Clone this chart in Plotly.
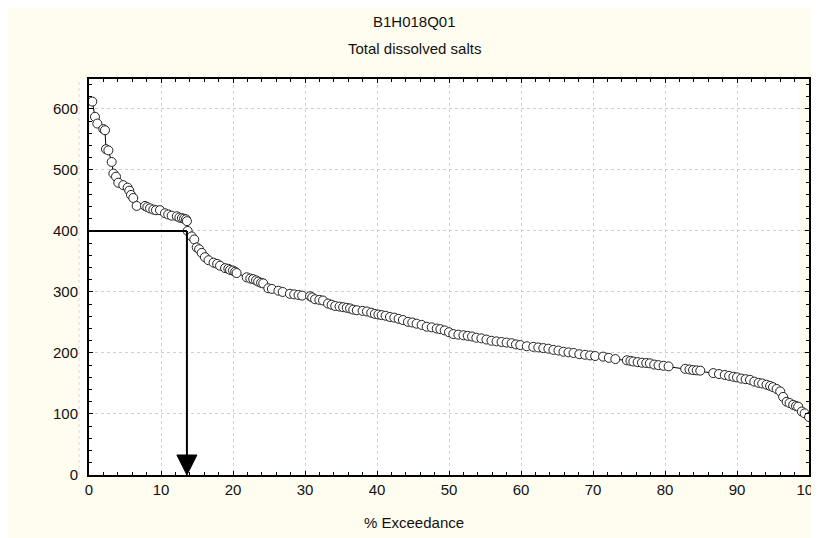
import plotly.graph_objects as go

# ---- data (TDS flow-duration / exceedance curve) ----
exceedance = [
    0.46, 0.83, 1.16, 1.99, 2.22, 2.36, 2.69, 3.15, 3.38, 3.75, 4.07, 4.76, 5.37, 5.60, 5.83,
    6.15, 6.62, 7.78, 8.10, 8.47, 8.93, 9.30, 9.86, 10.55, 11.00, 11.48, 12.20, 12.55, 12.90,
    13.20, 13.47, 13.60, 13.70, 14.26, 14.62, 14.96, 15.30, 15.65, 16.10, 16.60, 17.30, 17.80,
    18.20, 18.90, 19.35, 19.60, 20.00, 20.30, 20.50, 21.90, 22.40, 22.80, 23.20, 23.50, 23.90,
    24.20, 24.90, 25.40, 26.30, 26.90, 27.90, 28.50, 29.10, 29.60, 30.70, 31.00, 31.40, 32.00,
    32.50, 33.20, 33.70, 34.20, 34.80, 35.30, 35.80, 36.25, 36.70, 37.20, 38.00, 38.60, 39.20,
    39.70, 40.20, 40.65, 41.20, 41.80, 42.40, 43.00, 43.60, 44.30, 44.90, 45.50, 46.20, 46.90,
    47.60, 48.30, 48.80, 49.40, 50.00, 50.60, 51.30, 52.00, 52.60, 53.20, 53.80, 54.50, 55.20,
    55.90, 56.60, 57.30, 58.00, 58.70, 59.30, 59.90, 60.80, 61.70, 62.40, 63.10, 63.80, 64.50,
    65.20, 65.90, 66.60, 67.30, 68.10, 68.90, 69.60, 70.30, 71.40, 72.20, 73.10, 74.70, 75.20,
    75.60, 76.20, 76.80, 77.40, 77.90, 78.50, 79.10, 79.80, 80.50, 82.80, 83.40, 83.90, 84.40,
    84.90, 86.70, 87.50, 88.30, 88.90, 89.50, 90.00, 90.60, 91.20, 91.80, 92.40, 93.00, 93.50,
    94.10, 94.60, 95.00, 95.50, 96.00, 96.40, 96.90, 97.30, 97.80, 98.20, 98.50, 99.00, 99.40,
    100.00,
]
tds = [
    612, 587, 576, 567, 565, 534, 532, 513, 494, 489, 479, 475, 471, 466, 459,
    454, 441, 441, 439, 437, 435, 434, 434, 429, 427, 425, 424, 422, 421,
    420, 419, 416, 400, 391, 386, 373, 370, 364, 357, 352, 348, 346,
    343, 339, 338, 336, 335, 333, 331, 324, 322, 321, 319, 317, 315,
    314, 306, 305, 302, 300, 297, 296, 295, 294, 293, 291, 288, 287,
    286, 281, 279, 277, 276, 275, 274, 273, 271, 270, 269, 268, 266,
    264, 263, 262, 261, 259, 258, 256, 254, 251, 250, 248, 246, 243,
    242, 240, 239, 237, 234, 231, 230, 229, 228, 227, 225, 224, 222,
    220, 219, 218, 217, 216, 214, 213, 211, 210, 209, 208, 207, 205,
    204, 202, 201, 200, 198, 197, 196, 195, 194, 192, 190, 188, 187,
    186, 185, 184, 183.5, 183, 181, 180, 179, 178, 174, 173, 172, 171.5,
    171, 167, 165.5, 164, 162.5, 161, 160, 158, 157, 156, 153, 151, 150,
    148, 146, 144, 141, 137, 128, 120, 118, 115, 113, 112, 104, 101,
    95,
]

title_main = "B1H018Q01"
title_sub = "Total dissolved salts"
x_title = "% Exceedance"

x_ticks = [0, 10, 20, 30, 40, 50, 60, 70, 80, 90, 100]
y_ticks = [0, 100, 200, 300, 400, 500, 600]

threshold_value = 400        # TDS level
threshold_exceedance = 13.6  # corresponding % exceedance

# ---- layout geometry ----
# The page body has an 8px default margin, so the figure is offset by 8px
OFF = 8
W, H = 819 - OFF, 538 - OFF
PLOT_L, PLOT_R, PLOT_T, PLOT_B = 89 - OFF, 809 - OFF, 79 - OFF, 475 - OFF
ML, MR, MT, MB = PLOT_L, W - PLOT_R, PLOT_T, H - PLOT_B
PW, PH = PLOT_R - PLOT_L, PLOT_B - PLOT_T
x_range = [0, 100]
y_range = [0, 649]
CREAM = "#FFFDF0"
FONT = "Liberation Sans, Arial, sans-serif"


def px_to_xu(px):
    return px * (x_range[1] - x_range[0]) / PW


def px_to_yu(px):
    return px * (y_range[1] - y_range[0]) / PH


def page_x(px):
    return (px - OFF - PLOT_L) / PW


def page_y(py):
    return (PLOT_B - (py - OFF)) / PH


fig = go.Figure()

fig.add_trace(go.Scatter(
    x=exceedance, y=tds, mode="lines+markers",
    line=dict(color="black", width=1),
    marker=dict(symbol="circle", size=9, color="white",
                line=dict(color="#222222", width=1)),
    showlegend=False, hoverinfo="x+y", cliponaxis=False,
))

shapes = []
# white plot background (slightly offset to the left as in the reference)
shapes.append(dict(type="rect", xref="paper", yref="paper",
                   x0=-10 / PW, x1=(PW - 10) / PW, y0=0, y1=1,
                   fillcolor="white", line=dict(width=0), layer="below"))
shapes.append(dict(type="line", xref="paper", yref="paper",
                   x0=-10 / PW, x1=-10 / PW, y0=0, y1=1,
                   line=dict(color="#D8D8D8", width=1, dash="dot"), layer="below"))

# threshold guide: horizontal line, then vertical arrow down to the axis
head_h = px_to_yu(20)
head_w = px_to_xu(10)
shapes.append(dict(type="line", xref="x", yref="y",
                   x0=x_range[0], x1=threshold_exceedance,
                   y0=threshold_value, y1=threshold_value,
                   line=dict(color="black", width=2)))
shapes.append(dict(type="line", xref="x", yref="y",
                   x0=threshold_exceedance, x1=threshold_exceedance,
                   y0=threshold_value, y1=y_range[0] + head_h,
                   line=dict(color="black", width=2)))
tx = threshold_exceedance
ty = y_range[0]
shapes.append(dict(type="path", xref="x", yref="y",
                   path=f"M {tx - head_w} {ty + head_h} L {tx + head_w} {ty + head_h} L {tx} {ty} Z",
                   fillcolor="black", line=dict(color="black", width=1)))

annotations = [
    dict(text=title_main, xref="paper", yref="paper",
         x=page_x(414), y=page_y(21), showarrow=False,
         xanchor="center", yanchor="middle", font=dict(size=15, color="#111111", family=FONT)),
    dict(text=title_sub, xref="paper", yref="paper",
         x=page_x(414), y=page_y(48), showarrow=False,
         xanchor="center", yanchor="middle", font=dict(size=15, color="#111111", family=FONT)),
    dict(text=x_title, xref="paper", yref="paper",
         x=page_x(414), y=page_y(522), showarrow=False,
         xanchor="center", yanchor="middle", font=dict(size=15, color="#111111", family=FONT)),
]

axis_common = dict(
    showline=True, linecolor="black", linewidth=2, mirror="ticks",
    ticks="inside", ticklen=4, tickwidth=1, tickcolor="black",
    showgrid=True, gridcolor="#D0D0D0", gridwidth=1, griddash="dot",
    zeroline=False, tickfont=dict(size=15, color="#111111", family=FONT),
    ticklabeloverflow="allow",
)

fig.update_layout(
    width=W, height=H,
    margin=dict(l=ML, r=MR, t=MT, b=MB, autoexpand=False),
    paper_bgcolor=CREAM, plot_bgcolor=CREAM,
    font=dict(family=FONT, color="#111111"),
    shapes=shapes, annotations=annotations,
    xaxis=dict(range=x_range, tickmode="array", tickvals=x_ticks,
               ticktext=[str(v) for v in x_ticks],
               minor=dict(dtick=2, ticks="inside", ticklen=3, tickcolor="black", showgrid=False),
               **axis_common),
    yaxis=dict(range=y_range, tickmode="array", tickvals=y_ticks,
               ticktext=[str(v) for v in y_ticks], ticklabelstandoff=6,
               minor=dict(dtick=20, ticks="inside", ticklen=3, tickcolor="black", showgrid=False),
               **axis_common),
)

fig.write_html("out.html")
